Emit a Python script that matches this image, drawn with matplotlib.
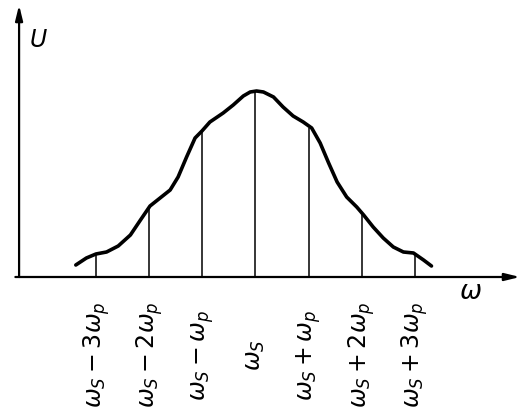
# Spectrum of a modulated signal: envelope U(omega) around omega_s with side lines

import matplotlib.pyplot as plt
import numpy as np

# Envelope curve, x in units of omega_p relative to omega_s, height in arbitrary units
curve_x = [-3.39, -3.19, -3.01, -2.81, -2.59, -2.36, -2.17, -1.99, -1.80, -1.61,
           -1.46, -1.30, -1.14, -1.01, -0.86, -0.61, -0.42, -0.23, -0.10, 0.02,
           0.15, 0.34, 0.52, 0.71, 0.90, 1.06, 1.22, 1.38, 1.54, 1.72,
           1.91, 2.04, 2.22, 2.41, 2.60, 2.79, 2.98, 3.17, 3.32]
curve_y = [12, 19, 23, 25, 31, 42, 57, 71, 79, 87,
           100, 120, 139, 146, 155, 164, 172, 181, 185, 186,
           185, 180, 170, 161, 155, 149, 134, 114, 95, 80,
           70, 62, 50, 39, 30, 25, 24, 17, 11]

# Side lines at omega_s + k*omega_p
line_k = [-3, -2, -1, 0, 1, 2, 3]
line_h = [23, 71, 147, 186, 149, 62, 24]
line_labels = [r"$\omega_S - 3\omega_p$", r"$\omega_S - 2\omega_p$",
               r"$\omega_S - \omega_p$", r"$\omega_S$",
               r"$\omega_S + \omega_p$", r"$\omega_S + 2\omega_p$",
               r"$\omega_S + 3\omega_p$"]

fig = plt.figure(figsize=(5.2, 4.08), dpi=100)
ax = fig.add_axes([0, 0, 1, 1])
ax.set_xlim(-4.82, 4.99)
ax.set_ylim(-131, 277)
ax.axis("off")

# axes with arrows
ax.annotate("", xy=(4.99, 0), xytext=(-4.53, 0),
            arrowprops=dict(arrowstyle="-|>,head_length=0.9,head_width=0.22",
                            lw=1.6, color="black", shrinkA=0, shrinkB=0))
ax.annotate("", xy=(-4.46, 272), xytext=(-4.46, 0),
            arrowprops=dict(arrowstyle="-|>,head_length=0.9,head_width=0.22",
                            lw=1.6, color="black", shrinkA=0, shrinkB=0))

ax.plot(curve_x, curve_y, color="black", lw=2.6,
        solid_capstyle="round", solid_joinstyle="round")
ax.vlines(line_k, 0, line_h, color="black", lw=1.1)

for k, lab in zip(line_k, line_labels):
    ax.text(k, -78, lab, rotation=90, ha="center", va="center", fontsize=17)

ax.text(4.05, -15, r"$\omega$", ha="center", va="center", fontsize=19)
ax.text(-4.1, 237, r"$U$", ha="center", va="center", fontsize=17)

fig.savefig("out.png", dpi=100)
